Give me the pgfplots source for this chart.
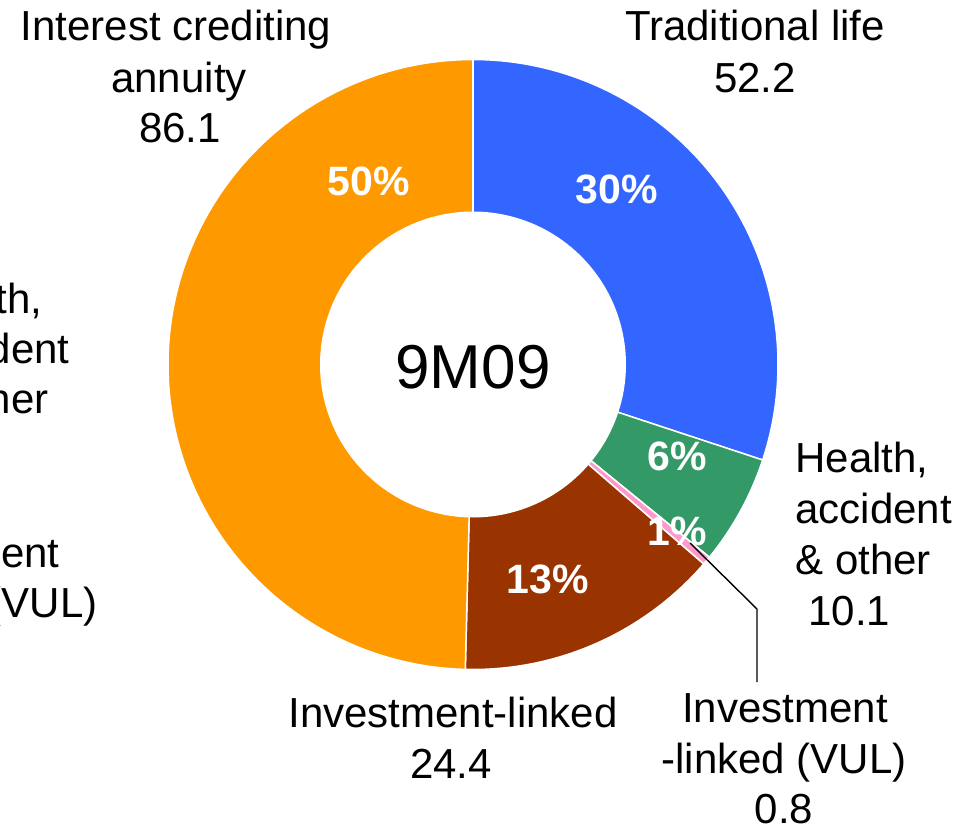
\documentclass[border=0pt]{standalone}
\usepackage{fontspec}
\setmainfont{Liberation Sans}
\usepackage{pgfplots}
\usepackage{pgfplotstable}
\pgfplotsset{compat=1.18}
\definecolor{cTrad}{HTML}{3366FF}
\definecolor{cHealth}{HTML}{339966}
\definecolor{cVUL}{HTML}{FF99CC}
\definecolor{cIL}{HTML}{993300}
\definecolor{cICA}{HTML}{FF9900}

\pgfplotstableread{
segment value
Trad 52.2
Health 10.1
VUL 0.8
IL 24.4
ICA 86.1
}\piedata

\pgfplotstablegetelem{0}{value}\of\piedata\edef\vA{\pgfplotsretval}
\pgfplotstablegetelem{1}{value}\of\piedata\edef\vB{\pgfplotsretval}
\pgfplotstablegetelem{2}{value}\of\piedata\edef\vC{\pgfplotsretval}
\pgfplotstablegetelem{3}{value}\of\piedata\edef\vD{\pgfplotsretval}
\pgfplotstablegetelem{4}{value}\of\piedata\edef\vE{\pgfplotsretval}
\pgfmathsetmacro\tot{\vA+\vB+\vC+\vD+\vE}
\pgfmathsetmacro\aA{90}
\pgfmathsetmacro\aB{\aA-360*(\vA/\tot)}
\pgfmathsetmacro\aC{\aB-360*(\vB/\tot)}
\pgfmathsetmacro\aD{\aC-360*(\vC/\tot)}
\pgfmathsetmacro\aE{\aD-360*(\vD/\tot)}
\pgfmathsetmacro\aF{\aE-360*(\vE/\tot)}

% center and radii in pixel units
\def\cx{473}
\def\cy{462.5}
\def\Ro{305}
\def\Ri{153}

\newcommand{\slice}[3]{%
  \addplot[fill=#3, draw=white, line width=0.75pt, domain=-0.1:1, samples=241, variable=\t]
   ({\cx + ((\t<-0.05)?0:\Ro)*cos(#1+(#2-#1)*max(\t,0))},
    {\cy + ((\t<-0.05)?0:\Ro)*sin(#1+(#2-#1)*max(\t,0))}) -- cycle;%
}

\begin{document}
\begin{tikzpicture}
\begin{axis}[
  name=ax,
  x=0.5pt, y=0.5pt,
  xmin=0, xmax=965, ymin=0, ymax=827,
  hide axis, clip=false,
]
\slice{\aA}{\aB}{cTrad}
\slice{\aB}{\aC}{cHealth}
\slice{\aC}{\aD}{cVUL}
\slice{\aD}{\aE}{cIL}
\slice{\aE}{\aF}{cICA}
\addplot[fill=white, draw=none, domain=0:360, samples=181]
  ({\cx+\Ri*cos(x)}, {\cy+\Ri*sin(x)});

% leader line for VUL
\addplot[black, line width=0.7pt] coordinates {(690,284) (757,218) (757,145)};

\tikzset{lab/.style={anchor=base, inner sep=0pt, font=\fontsize{21}{25}\selectfont},
         labw/.style={anchor=base east, inner sep=0pt, font=\fontsize{21}{25}\selectfont},
         labl/.style={anchor=base west, inner sep=0pt, font=\fontsize{21}{25}\selectfont},
         pct/.style={anchor=base, inner sep=0pt, text=white, font=\fontsize{20.5}{24}\selectfont\bfseries}}

% center text
\node[anchor=base, inner sep=0pt, font=\fontsize{31}{36}\selectfont] at (axis cs:473,439) {9M09};

% percentages
\node[pct] at (axis cs:369,632) {50\%};
\node[pct] at (axis cs:617,624) {30\%};
\node[pct] at (axis cs:677,357) {6\%};
\node[pct] at (axis cs:677,282) {1\%};
\node[pct] at (axis cs:548,234) {13\%};

% outer labels
\node[lab] at (axis cs:176,786) {Interest crediting};
\node[lab] at (axis cs:179,734) {annuity};
\node[lab] at (axis cs:180,684) {86.1};
\node[lab] at (axis cs:755,786) {Traditional life};
\node[lab] at (axis cs:755,734) {52.2};
\node[labl] at (axis cs:795,355) {Health,};
\node[labl] at (axis cs:795,304) {accident};
\node[labl] at (axis cs:795,253) {\& other};
\node[labl] at (axis cs:808,202) {10.1};
\node[lab] at (axis cs:453,100) {Investment-linked};
\node[lab] at (axis cs:451,49) {24.4};
\node[lab] at (axis cs:785,105) {Investment};
\node[lab] at (axis cs:784,54) {-linked (VUL)};
\node[lab] at (axis cs:784,4) {0.8};

% labels of a neighbouring chart, cut by the left edge
\node[labw] at (axis cs:43,514) {Health,};
\node[labw] at (axis cs:70,464) {accident};
\node[labw] at (axis cs:49,414) {\& other};
\node[labw] at (axis cs:60,260) {Investment};
\node[labw] at (axis cs:98,210) {-linked (VUL)};
\end{axis}
\pgfresetboundingbox
\path[use as bounding box] (ax.south west) rectangle (ax.north east);
\end{tikzpicture}
\end{document}
